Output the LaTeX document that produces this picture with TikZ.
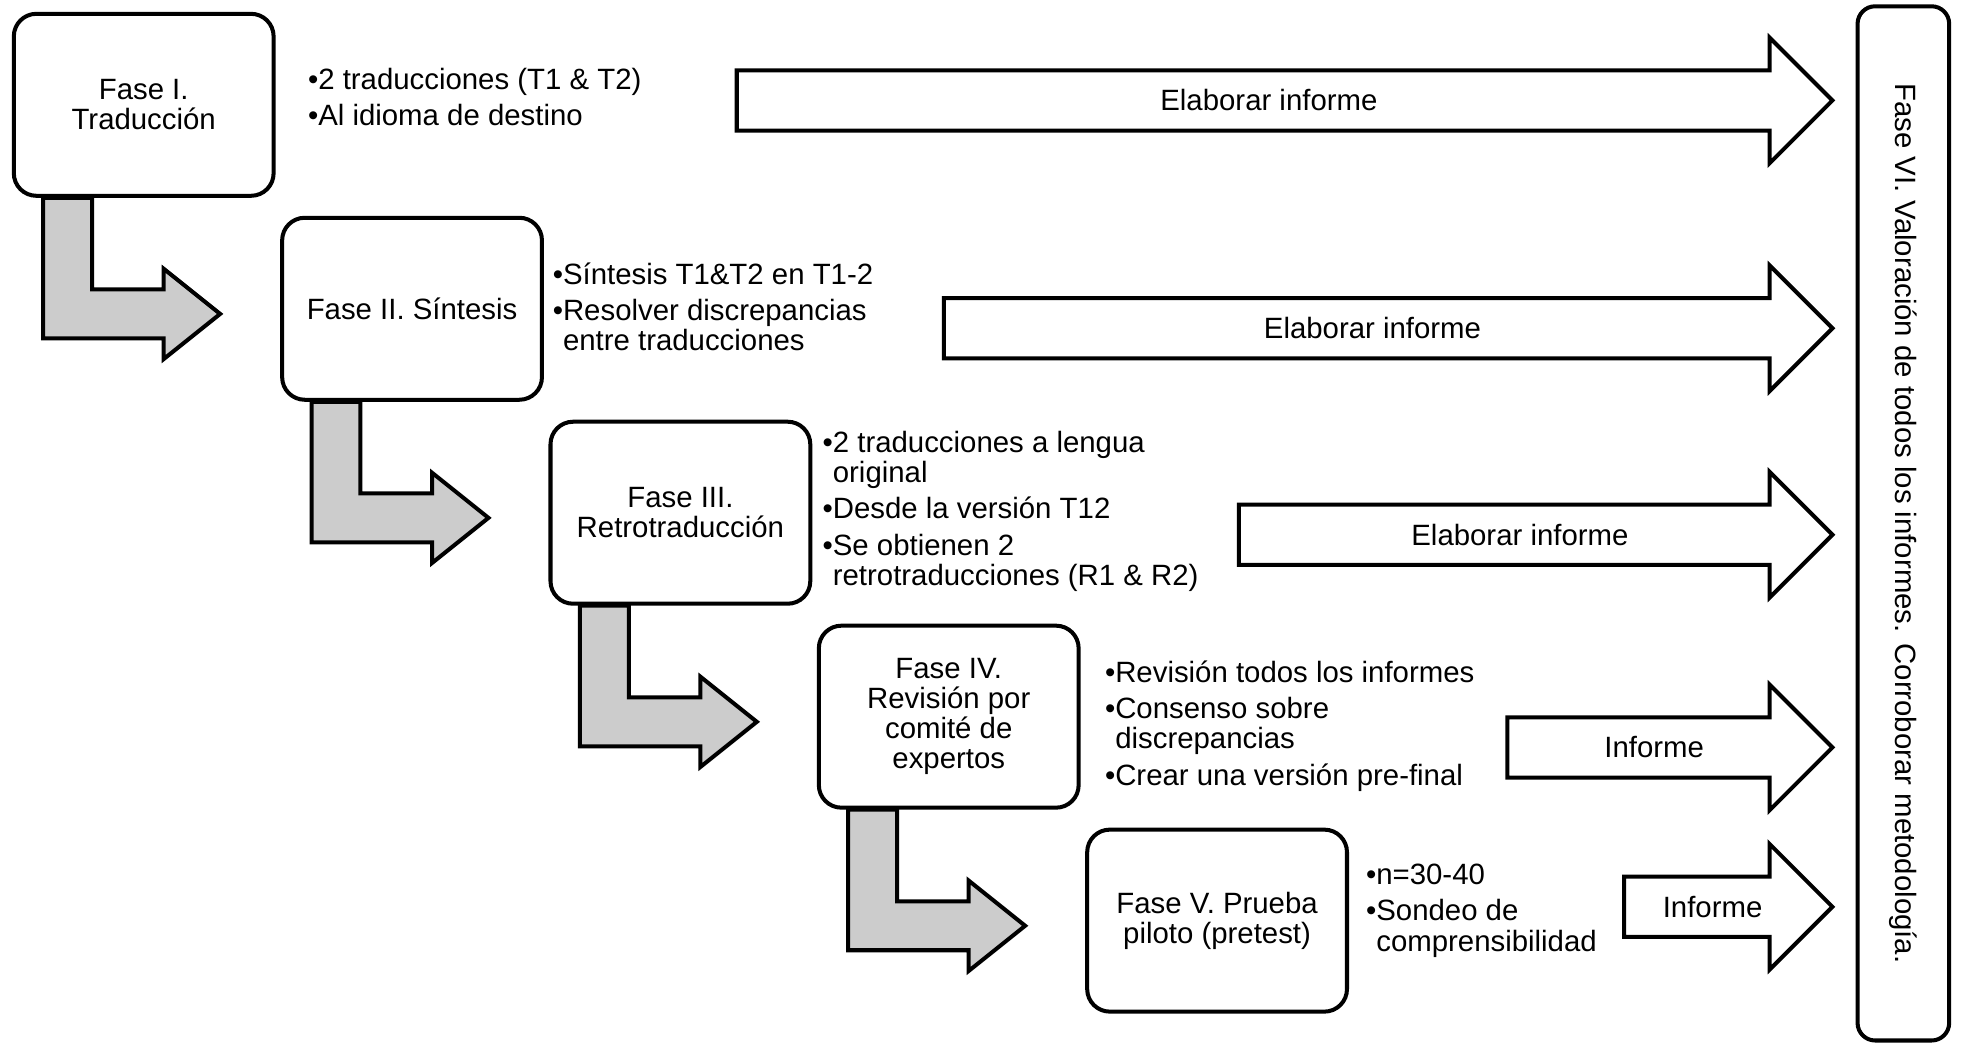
\documentclass[tikz,border=0pt]{standalone}
\usepackage{fontspec}
\setmainfont{Liberation Sans}
\usetikzlibrary{positioning}
\tikzset{
  fase/.style={draw,rounded corners=9pt,align=center,minimum width=103.5pt,minimum height=72.5pt,fill=white,line width=1.6pt,inner sep=2pt},
  puntos/.style={align=left,anchor=north west,inner sep=0pt},
  bajada/.style={draw,fill=black!20,line width=1.6pt},
  flecha/.style={draw,fill=white,line width=1.6pt},
  rotulo/.style={inner sep=0pt}
}
% block arrow towards Fase VI: name, tail x, middle y, label
\newcommand\informe[4]{%
  \draw[flecha] (#2,#3-24) -- (1410,#3-24) -- (1410,#3-50) -- (1460,#3)
    -- (1410,#3+50) -- (1410,#3+24) -- (#2,#3+24) -- cycle;
  \node[rotulo] (#1) at ({(#2+1435)/2},#3) {#4};}

\begin{document}
\begin{tikzpicture}[x=0.5pt,y=-0.5pt,font=\fontsize{11.7}{12}\selectfont]
  \useasboundingbox (0,0) rectangle (1568,831);

  \node[fase] (f1) at (114.5,83.5) {Fase I.\\Traducción};
  \node[fase,below right=7.15pt and 1.8pt of f1] (f2) {Fase II. Síntesis};
  \node[fase,below right=7.15pt and 1.8pt of f2] (f3) {Fase III.\\Retrotraducción};
  \node[fase,below right=7.15pt and 1.8pt of f3] (f4) {Fase IV.\\Revisión por\\comité de\\expertos};
  \node[fase,below right=7.15pt and 1.8pt of f4] (f5) {Fase V. Prueba\\piloto (pretest)};
  \node[fase,rounded corners=7pt,rotate=-90,minimum width=412pt,minimum height=36.5pt] (f6) at (1516.5,417)
    {Fase VI. Valoración de todos los informes. Corroborar metodología.};

  % gray bent arrows between the phases
  \draw[bajada] ([shift={(25,0)}]f1.south west) -- ++(39,0) -- ++(0,73) -- ++(57,0) -- ++(0,-16.5)
    -- ++(45,36) -- ++(-45,36) -- ++(0,-16.5) -- ++(-96,0) -- cycle;
  \draw[bajada] ([shift={(25,0)}]f2.south west) -- ++(39,0) -- ++(0,73) -- ++(57,0) -- ++(0,-16.5)
    -- ++(45,36) -- ++(-45,36) -- ++(0,-16.5) -- ++(-96,0) -- cycle;
  \draw[bajada] ([shift={(25,0)}]f3.south west) -- ++(39,0) -- ++(0,73) -- ++(57,0) -- ++(0,-16.5)
    -- ++(45,36) -- ++(-45,36) -- ++(0,-16.5) -- ++(-96,0) -- cycle;
  \draw[bajada] ([shift={(25,0)}]f4.south west) -- ++(39,0) -- ++(0,73) -- ++(57,0) -- ++(0,-16.5)
    -- ++(45,36) -- ++(-45,36) -- ++(0,-16.5) -- ++(-96,0) -- cycle;

  \node[puntos] (p1) at (245,54) {•2 traducciones (T1 \& T2)\\[2.5pt]•Al idioma de destino};
  \node[puntos] (p2) at (440,209) {•Síntesis T1\&T2 en T1-2\\[2.5pt]•Resolver discrepancias\\ \hphantom{•}entre traducciones};
  \node[puntos] (p3) at (655,343) {•2 traducciones a lengua\\ \hphantom{•}original\\[2.5pt]•Desde la versión T12\\[2.5pt]•Se obtienen 2\\ \hphantom{•}retrotraducciones (R1 \& R2)};
  \node[puntos] (p4) at (880,526) {•Revisión todos los informes\\[2.5pt]•Consenso sobre\\ \hphantom{•}discrepancias\\[2.5pt]•Crear una versión pre-final};
  \node[puntos] (p5) at (1088,688) {•n=30-40\\[2.5pt]•Sondeo de\\ \hphantom{•}comprensibilidad};

  \informe{a1}{587}{80}{Elaborar informe}
  \informe{a2}{752}{261.5}{Elaborar informe}
  \informe{a3}{987}{426}{Elaborar informe}
  \informe{a4}{1201}{595.5}{Informe}
  \informe{a5}{1294}{722.5}{Informe}
\end{tikzpicture}
\end{document}
